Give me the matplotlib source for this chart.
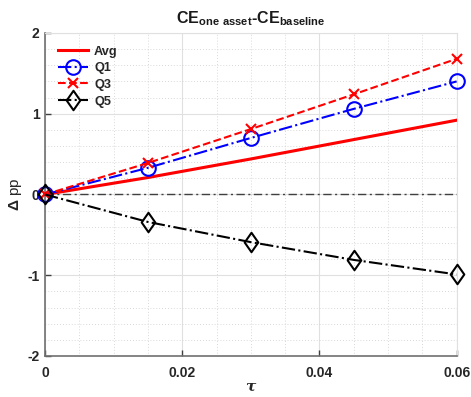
import matplotlib
matplotlib.use("Agg")
import matplotlib.pyplot as plt
from matplotlib.ticker import MultipleLocator
from matplotlib.path import Path

plt.rcParams['font.family'] = ['Liberation Sans', 'DejaVu Sans']
plt.rcParams['font.weight'] = 'bold'
plt.rcParams['mathtext.fontset'] = 'custom'
plt.rcParams['mathtext.rm'] = 'Liberation Sans:bold'
plt.rcParams['mathtext.bf'] = 'Liberation Sans:bold'
plt.rcParams['mathtext.it'] = 'DejaVu Serif:italic'

tau = [0.0, 0.015, 0.03, 0.045, 0.06]
avg = [0.0, 0.21, 0.44, 0.68, 0.92]
q1 = [0.0, 0.33, 0.70, 1.06, 1.40]
q3 = [0.0, 0.39, 0.81, 1.24, 1.68]
q5 = [0.0, -0.34, -0.59, -0.81, -0.99]
xtick_labels = ['0', '0.02', '0.04', '0.06']
ytick_labels = ['-2', '-1', '0', '1', '2']

# tall diamond marker
diamond = Path([(0, 1), (0.7, 0), (0, -1), (-0.7, 0), (0, 1)],
               [Path.MOVETO, Path.LINETO, Path.LINETO, Path.LINETO, Path.CLOSEPOLY])

fig = plt.figure(figsize=(4.71, 3.97), dpi=100)
ax = fig.add_axes([0.0955, 0.1033, 0.874, 0.8136])

ax.set_xlim(0, 0.06)
ax.set_ylim(-2, 2)
ax.set_xticks([0, 0.02, 0.04, 0.06])
ax.set_yticks([-2, -1, 0, 1, 2])
ax.set_xticklabels(xtick_labels)
ax.set_yticklabels(ytick_labels)
ax.xaxis.set_minor_locator(MultipleLocator(0.005))
ax.yaxis.set_minor_locator(MultipleLocator(0.2))

ax.grid(True, which='major', color='#e0e0e0', linewidth=0.8, linestyle='-')
ax.grid(True, which='minor', color='#cccccc', linewidth=0.6, linestyle=(0, (1, 2.5)))
ax.set_axisbelow(True)

for side in ['top', 'right']:
    ax.spines[side].set_color('#e0e0e0')
    ax.spines[side].set_linewidth(0.8)
for side in ['left', 'bottom']:
    ax.spines[side].set_color('#707070')
    ax.spines[side].set_linewidth(1.2)

ax.tick_params(which='major', direction='in', length=4, width=1, color='#404040',
               labelsize=10, labelcolor='#262626')
ax.tick_params(axis='x', pad=7)
ax.tick_params(axis='y', pad=4)
ax.tick_params(which='minor', length=0)

ax.axhline(0, color='#404040', linewidth=1.0, linestyle=(0, (6, 2.5, 1.5, 2.5)), zorder=1.5)

ax.plot(tau, avg, color='#ff0000', linewidth=2.2, linestyle='-', label='Avg', zorder=3)
ax.plot(tau, q1, color='#0000ff', linewidth=1.5, linestyle='-.', marker='o',
        markersize=10.5, markerfacecolor='none', markeredgewidth=1.5,
        label='Q1', clip_on=False, zorder=4)
ax.plot(tau, q3, color='#ff0000', linewidth=1.5, linestyle='--', marker='x',
        markersize=7, markeredgewidth=1.5, label='Q3', clip_on=False, zorder=4)
ax.plot(tau, q5, color='#000000', linewidth=1.5, linestyle='-.', marker=diamond,
        markersize=14, markerfacecolor='none', markeredgewidth=1.5,
        label='Q5', clip_on=False, zorder=4)

leg = ax.legend(loc='upper left', frameon=False, fontsize=9.2, handlelength=2.4,
                labelspacing=0.36, handletextpad=0.45, borderaxespad=0.6)
for t in leg.get_texts():
    t.set_color('#262626')

ax.set_title(r'$\mathbf{CE}_{\mathbf{one\ asset}}\mathbf{\text{-}CE}_{\mathbf{baseline}}$',
             fontsize=11.5, color='#1a1a1a', pad=7)
ax.set_ylabel(r'$\Delta$ pp', fontsize=11, color='#262626', labelpad=2)
ax.set_xlabel(r'$\tau$', fontsize=11, color='#262626', labelpad=0)

fig.savefig('out.png', dpi=100)
